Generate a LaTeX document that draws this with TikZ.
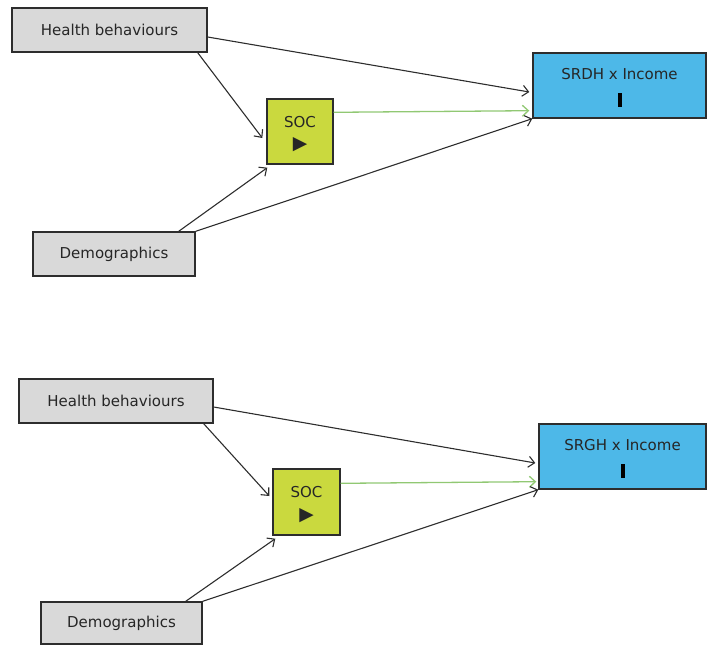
\documentclass[tikz,border=0pt]{standalone}
\usepackage{fontspec}
\setmainfont{DejaVu Sans}
\usetikzlibrary{arrows.meta}
\definecolor{boxgray}{RGB}{217,217,217}
\definecolor{socgreen}{RGB}{202,217,62}
\definecolor{outblue}{RGB}{77,184,232}
\definecolor{linkgreen}{RGB}{145,200,115}
\definecolor{edge}{RGB}{45,45,45}
\tikzset{
  box/.style={draw=edge, line width=1.4pt, inner sep=0pt, text=black!85},
  graybox/.style={box, fill=boxgray},
  socbox/.style={box, fill=socgreen},
  outbox/.style={box, fill=outblue},
  lbl/.style={inner sep=0pt, font=\fontsize{15}{18}\selectfont, text=black!85},
  link/.style={draw=edge, line width=1.1pt, -{Straight Barb[length=6pt,width=11pt]}},
  glink/.style={draw=linkgreen, line width=1.3pt, -{Straight Barb[length=6pt,width=11pt]}},
  barmark/.style={fill=black, inner sep=0pt, minimum width=4pt, minimum height=14pt},
}
\begin{document}
\begin{tikzpicture}[x=1pt,y=-1pt]
\useasboundingbox (0,0) rectangle (707,646);
% ---------- top diagram ----------
\node[graybox, minimum width=195pt, minimum height=44pt, font=\fontsize{15}{18}\selectfont] (hb1) at (109.5,30) {Health behaviours};
\node[graybox, minimum width=162pt, minimum height=44pt, font=\fontsize{15}{18}\selectfont] (dem1) at (114,254) {Demographics};
\node[socbox, minimum width=66pt, minimum height=65pt] (soc1) at (300,131.5) {};
\node[lbl] (soc1t) at ([yshift=9.5pt]soc1.center) {SOC};
\node[lbl, scale=1.25] (soc1m) at ([yshift=-13.5pt]soc1.center) {▶};
\node[outbox, minimum width=173pt, minimum height=65pt] (out1) at (619.5,85.5) {};
\node[lbl] (out1t) at ([yshift=11.5pt]out1.center) {SRDH x Income};
\node[barmark] (out1m) at ([yshift=-14.5pt]out1.center) {};
\draw[link] ([yshift=-7pt]hb1.east) -- ([xshift=-3pt,yshift=-6.5pt]out1.west);
\draw[link] ([xshift=-10pt]hb1.south east) -- ([xshift=-4pt,yshift=-6.5pt]soc1.west);
\draw[glink] ([yshift=-14pt]soc1.north east) -- ([xshift=-3pt,yshift=8pt]out1.south west);
\draw[link] ([xshift=-17pt]dem1.north east) -- ([xshift=1pt,yshift=-3pt]soc1.south west);
\draw[link] (dem1.north east) -- (out1.south west);
% ---------- bottom diagram ----------
\node[graybox, minimum width=194pt, minimum height=44pt, font=\fontsize{15}{18}\selectfont] (hb2) at (116,401) {Health behaviours};
\node[graybox, minimum width=161pt, minimum height=42pt, font=\fontsize{15}{18}\selectfont] (dem2) at (121.5,623) {Demographics};
\node[socbox, minimum width=67pt, minimum height=66pt] (soc2) at (306.5,502) {};
\node[lbl] (soc2t) at ([yshift=9.5pt]soc2.center) {SOC};
\node[lbl, scale=1.25] (soc2m) at ([yshift=-13.5pt]soc2.center) {▶};
\node[outbox, minimum width=167pt, minimum height=65pt] (out2) at (622.5,456.5) {};
\node[lbl] (out2t) at ([yshift=11.5pt]out2.center) {SRGH x Income};
\node[barmark] (out2m) at ([yshift=-14.5pt]out2.center) {};
\draw[link] ([yshift=-6pt]hb2.east) -- ([xshift=-3pt,yshift=-6.5pt]out2.west);
\draw[link] ([xshift=-10pt]hb2.south east) -- ([xshift=-3pt,yshift=6pt]soc2.west);
\draw[glink] ([yshift=-15pt]soc2.north east) -- ([xshift=-2pt,yshift=8pt]out2.south west);
\draw[link] ([xshift=-17pt]dem2.north east) -- ([xshift=3pt,yshift=-3pt]soc2.south west);
\draw[link] (dem2.north east) -- (out2.south west);
\end{tikzpicture}
\end{document}
